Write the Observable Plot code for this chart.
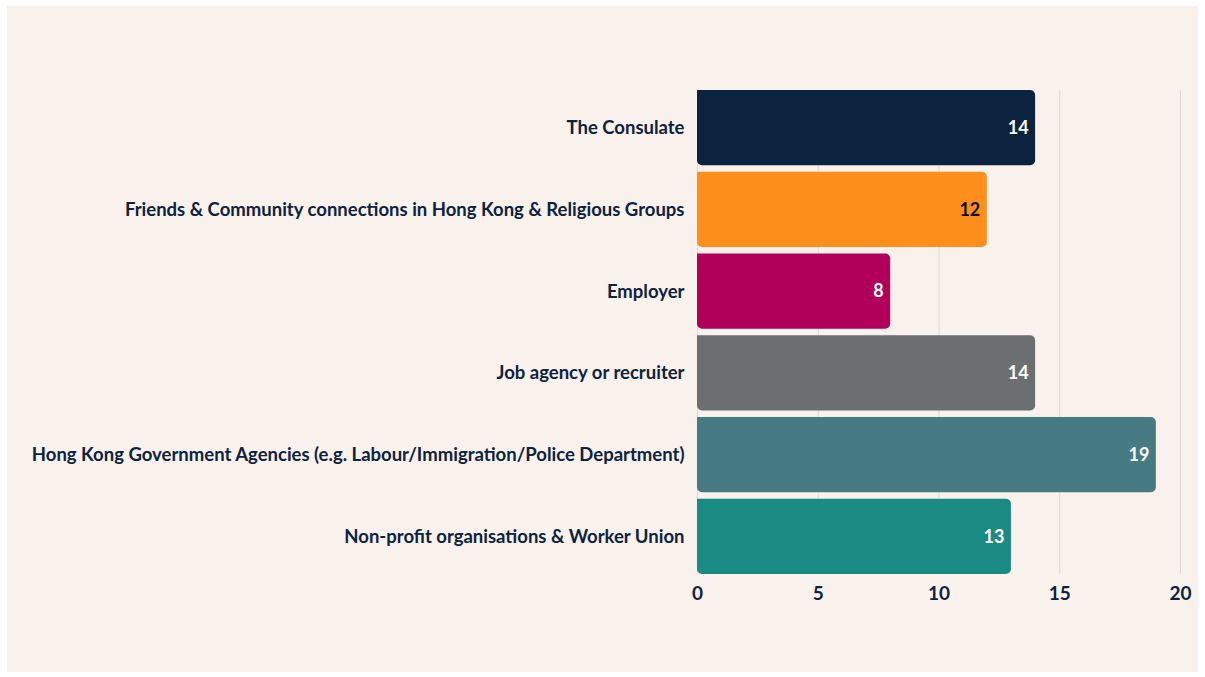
<!DOCTYPE html>
<html>
<head>
<meta charset="utf-8">
<script src="https://cdn.jsdelivr.net/npm/d3@7"></script>
<script src="https://cdn.jsdelivr.net/npm/@observablehq/plot@0.6"></script>
<style>
  html, body { margin: 0; padding: 0; background: #ffffff; }
  #panel { position: absolute; left: 7px; top: 6px; width: 1191px; height: 666px; background: #f9f1eb; }
  svg { font-family: Lato, "Open Sans", sans-serif; }
</style>
</head>
<body>
<div id="panel"></div>
<script>
const categories = [
  "The Consulate",
  "Friends & Community connections in Hong Kong & Religious Groups",
  "Employer",
  "Job agency or recruiter",
  "Hong Kong Government Agencies (e.g. Labour/Immigration/Police Department)",
  "Non-profit organisations & Worker Union"
];
const values = [14, 12, 8, 14, 19, 13];
const colors = ["#0c2340", "#ff8f1c", "#b1005a", "#6b6f72", "#477b83", "#1b8a82"];
const labelColors = ["#ffffff", "#0d0d0d", "#ffffff", "#ffffff", "#ffffff", "#ffffff"];
const xTicks = [0, 5, 10, 15, 20];

const data = categories.map((c, i) => ({category: c, value: values[i], color: colors[i], labelColor: labelColors[i]}));

const chart = Plot.plot({
  width: 1191,
  height: 666,
  marginLeft: 690,
  marginRight: 18,
  marginTop: 84,
  marginBottom: 98,
  style: {background: "transparent", fontSize: "17px", fontWeight: "700", color: "#0c2340"},
  x: {domain: [0, 20], ticks: xTicks, label: null, grid: false},
  y: {domain: categories, label: null, paddingInner: 0.08, paddingOuter: 0, round: false},
  marks: [
    Plot.ruleX(xTicks, {stroke: "#dcd8d3", strokeWidth: 1}),
    Plot.barX(data, {x: "value", y: "category", fill: d => d.color, rx2: 5, ry2: 5}),
    Plot.text(data, {x: "value", y: "category", text: d => String(d.value), textAnchor: "end", dx: -7, fill: d => d.labelColor, fontSize: 18, fontWeight: 700}),
    Plot.axisX({ticks: xTicks, tickSize: 0, tickPadding: 12, fontSize: 19, fontWeight: 700, fill: "#0c2340", label: null}),
    Plot.axisY({tickSize: 0, tickPadding: 13, fontSize: 18.5, fontWeight: 700, fill: "#0c2340", label: null})
  ]
});
document.getElementById("panel").appendChild(chart);
</script>
</body>
</html>
